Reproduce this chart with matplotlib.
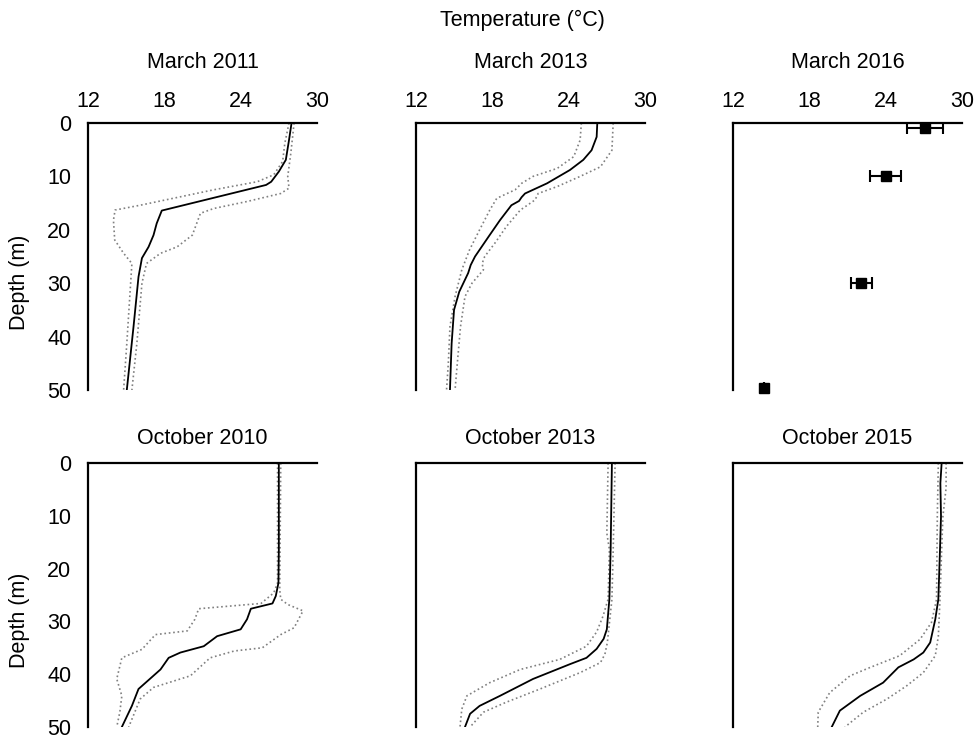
import matplotlib.pyplot as plt

plt.rcParams['font.family'] = ['Liberation Sans', 'DejaVu Sans']

# March 2011
m11_d = [0, 3.2, 6.9, 9.1, 11.0, 11.6, 16.4, 18.8, 21.0, 23.2, 25.3, 28.8, 38.1, 50]
m11_t = [28.0, 27.8, 27.55, 27.0, 26.4, 26.0, 17.8, 17.4, 17.15, 16.76, 16.24, 15.97, 15.58, 15.05]
m11_lo_d = [0, 3.8, 7.2, 9.7, 11.0, 12.5, 13.8, 15.4, 16.3, 18.2, 21.9, 24.4, 26.3, 31.9, 41.3, 50]
m11_lo_t = [27.8, 27.47, 27.3, 26.6, 25.3, 21.9, 19.3, 16.1, 14.13, 14.0, 14.1, 14.8, 15.45, 15.3, 15.05, 14.8]
m11_hi_d = [0, 5.7, 10.0, 12.2, 13.2, 14.7, 16.0, 16.9, 21.0, 23.2, 24.4, 26.3, 30.0, 41.3, 50]
m11_hi_t = [28.2, 27.94, 27.7, 27.8, 27.15, 24.5, 21.9, 20.84, 20.2, 19.0, 17.7, 16.6, 16.24, 15.84, 15.45]

# March 2013
m13_d = [0, 2.6, 5.1, 6.9, 8.8, 11.3, 13.2, 13.9, 14.6, 15.4, 18.2, 21.3, 25.0, 26.6, 28.1, 31.6, 35.0, 41.3, 50]
m13_t = [26.25, 26.2, 25.8, 25.15, 24.1, 22.3, 20.57, 20.3, 20.1, 19.5, 18.6, 17.7, 16.64, 16.3, 16.1, 15.4, 14.99, 14.8, 14.67]
m13_lo_d = [0, 3.2, 6.3, 8.5, 10.0, 11.3, 12.5, 14.1, 16.3, 20.0, 23.8, 27.5, 32.5, 38.1, 45.0, 50]
m13_lo_t = [25.0, 24.9, 24.4, 23.1, 21.2, 20.3, 19.8, 18.35, 17.8, 17.0, 16.2, 15.6, 15.07, 14.67, 14.54, 14.4]
m13_hi_d = [0, 5.1, 8.2, 10.0, 11.9, 13.2, 14.4, 16.3, 19.4, 22.5, 25.0, 26.3, 27.5, 30.0, 32.5, 38.1, 46.3, 50]
m13_hi_t = [27.5, 27.4, 26.5, 24.9, 23.1, 21.6, 21.36, 20.2, 19.1, 18.2, 17.4, 17.2, 17.3, 16.4, 15.85, 15.5, 15.2, 15.07]

# March 2016 (discrete stations)
m16_d = [1, 10, 30, 49.6]
m16_t = [27.1, 24.0, 22.1, 14.4]
m16_err = [1.4, 1.2, 0.8, 0]

# October 2010
o10_d = [0, 16.4, 22.7, 25.2, 26.6, 27.6, 29.6, 31.5, 32.8, 34.7, 35.9, 36.9, 39.1, 40.6, 42.8, 46.0, 50]
o10_t = [27.0, 27.0, 26.97, 26.76, 26.5, 24.8, 24.5, 24.0, 22.15, 21.1, 19.26, 18.34, 17.7, 17.0, 15.97, 15.45, 14.66]
o10_lo_d = [0, 22.7, 24.6, 26.6, 27.6, 29.6, 31.8, 32.5, 35.3, 36.9, 40.9, 44.1, 47.2, 50]
o10_lo_t = [26.9, 26.9, 26.6, 25.6, 20.7, 20.4, 19.8, 17.3, 16.24, 14.66, 14.26, 14.66, 14.5, 14.26]
o10_hi_d = [0, 24.0, 25.8, 26.8, 28.0, 31.2, 32.5, 35.0, 35.6, 36.9, 40.3, 42.5, 44.7, 50]
o10_hi_t = [27.15, 27.07, 27.15, 27.7, 28.9, 28.2, 27.15, 25.7, 23.5, 21.6, 20.05, 17.15, 16.1, 15.2]

# October 2013
o13_d = [0, 16.4, 25.8, 31.5, 33.3, 35.2, 36.9, 38.1, 40.9, 44.1, 46.0, 47.5, 50]
o13_t = [27.4, 27.3, 27.2, 27.0, 26.75, 26.2, 25.4, 24.1, 21.2, 18.6, 17.0, 16.25, 15.85]
o13_lo_d = [0, 13.3, 16.4, 25.8, 29.0, 32.0, 34.7, 37.2, 39.1, 41.6, 44.1, 46.6, 50]
o13_lo_t = [27.1, 27.0, 27.2, 27.1, 26.7, 26.2, 25.4, 23.3, 20.2, 17.8, 16.0, 15.6, 15.46]
o13_hi_d = [0, 16.4, 25.8, 34.0, 36.2, 37.8, 39.7, 42.8, 45.3, 47.2, 50]
o13_hi_t = [27.65, 27.5, 27.4, 27.04, 26.85, 26.5, 24.9, 21.75, 19.1, 17.3, 16.25]

# October 2015
o15_d = [0, 3.8, 10.1, 16.4, 25.8, 29.6, 34.0, 35.9, 37.2, 38.7, 41.6, 44.1, 46.9, 50]
o15_t = [28.4, 28.3, 28.35, 28.27, 28.14, 27.9, 27.5, 26.96, 26.2, 25.0, 23.8, 22.0, 20.4, 19.76]
o15_lo_d = [0, 10, 25.8, 30.2, 33.4, 36.5, 38.7, 40.3, 43.5, 47.2, 50]
o15_lo_t = [28.14, 28.06, 28.0, 27.6, 26.7, 25.1, 22.8, 21.2, 19.6, 18.7, 18.66]
o15_hi_d = [0, 4.7, 10.1, 16.4, 25.8, 32.8, 36.5, 39.7, 42.2, 44.7, 47.2, 50]
o15_hi_t = [28.75, 28.75, 28.5, 28.4, 28.27, 28.14, 27.9, 26.96, 25.65, 24.1, 22.24, 20.8]

titles = ['March 2011', 'March 2013', 'March 2016', 'October 2010', 'October 2013', 'October 2015']
temp_ticks = [12, 18, 24, 30]
depth_ticks = [0, 10, 20, 30, 40, 50]

profiles = {
    0: (m11_d, m11_t, m11_lo_d, m11_lo_t, m11_hi_d, m11_hi_t),
    1: (m13_d, m13_t, m13_lo_d, m13_lo_t, m13_hi_d, m13_hi_t),
    3: (o10_d, o10_t, o10_lo_d, o10_lo_t, o10_hi_d, o10_hi_t),
    4: (o13_d, o13_t, o13_lo_d, o13_lo_t, o13_hi_d, o13_hi_t),
    5: (o15_d, o15_t, o15_lo_d, o15_lo_t, o15_hi_d, o15_hi_t),
}

W, H = 976, 739
fig = plt.figure(figsize=(W / 100, H / 100), dpi=100)

lefts = [88, 416, 733]
tops = [123, 463]
heights = [267, 264]
aw = 229
fs = 15.5

axes = []
for r in range(2):
    for c in range(3):
        ah = heights[r]
        ax = fig.add_axes([lefts[c] / W, (H - tops[r] - ah) / H, aw / W, ah / H])
        axes.append(ax)

for i, ax in enumerate(axes):
    r = i // 3
    if i in profiles:
        d, t, ld, lt, hd, ht = profiles[i]
        ax.plot(lt, ld, color='#808080', ls=':', lw=1.2)
        ax.plot(ht, hd, color='#808080', ls=':', lw=1.2)
        ax.plot(t, d, color='black', lw=1.3)
    else:
        ax.errorbar(m16_t, m16_d, xerr=m16_err, fmt='s', color='black',
                    markersize=7.5, capsize=4, elinewidth=1.5, capthick=1.5,
                    clip_on=False)
    ax.set_xlim(12, 30)
    ax.set_ylim(50, 0)
    ax.xaxis.set_ticks_position('top')
    ax.set_xticks(temp_ticks)
    ax.set_yticks(depth_ticks)
    if r == 0:
        ax.tick_params(axis='x', length=0, pad=8, labelsize=fs)
    else:
        ax.tick_params(axis='x', length=0, labeltop=False, labelbottom=False)
    if i % 3 == 0:
        ax.tick_params(axis='y', length=0, pad=12, labelsize=fs)
    else:
        ax.tick_params(axis='y', length=0, labelleft=False)
    for s in ['right', 'bottom']:
        ax.spines[s].set_visible(False)
    for s in ['left', 'top']:
        ax.spines[s].set_linewidth(1.6)
    yt = 1 + (61 if r == 0 else 25) / heights[r]
    ax.text(0.5, yt, titles[i], transform=ax.transAxes, ha='center', va='center', fontsize=fs)

fig.text(522 / W, 1 - 20 / H, 'Temperature (°C)', ha='center', va='center', fontsize=fs)
fig.text(20 / W, 1 - 282 / H, 'Depth (m)', ha='center', va='center', rotation=90, fontsize=fs)
fig.text(20 / W, 1 - 620 / H, 'Depth (m)', ha='center', va='center', rotation=90, fontsize=fs)

fig.savefig('out.png', dpi=100)
